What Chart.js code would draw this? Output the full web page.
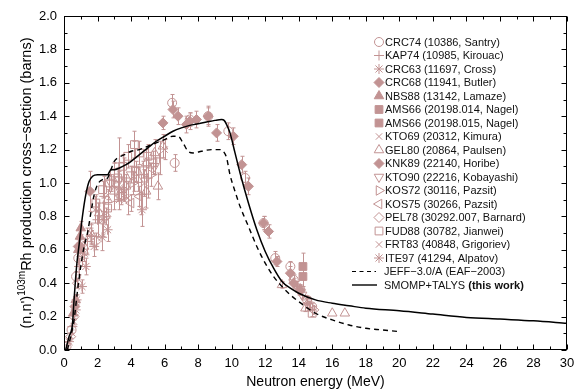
<!DOCTYPE html>
<html><head><meta charset="utf-8">
<script src="https://cdn.jsdelivr.net/npm/chart.js@4/dist/chart.umd.min.js"></script>
<style>html,body{margin:0;padding:0;background:#fff}#wrap{width:583px;height:390px;position:relative}</style>
</head><body><div id="wrap"><canvas id="c" width="583" height="390"></canvas></div>
<script>
// ---------- DATA (energy MeV, cross-section barns, error barns) ----------
const crc74_E = [0.15,0.45,0.72,0.85,6.45,6.6,7.5,8.6,9.8,10.8,11.9,12.6,13.5,13.7,14.1,14.5,14.8];
const crc74_V = [0.02,0.12,0.44,0.55,1.48,1.12,1.38,1.40,1.31,1.03,0.76,0.55,0.50,0.42,0.36,0.30,0.26];
const crc74_D = [0.01,0.02,0.03,0.04,0.05,0.05,0.04,0.05,0.05,0.04,0.04,0.04,0.03,0.03,0.03,0.02,0.02];

const kap74_E = [0.5,0.9,1.4,2.0,2.4,3.0,3.6,4.2,5.0,5.7,3.3,4.6,14.5];
const kap74_V = [0.14,0.50,0.65,0.78,0.92,0.98,1.03,1.10,1.03,1.15,1.12,0.93,0.28];
const kap74_D = [0.02,0.05,0.08,0.10,0.12,0.14,0.12,0.15,0.12,0.10,0.15,0.12,0.03];

const crc63_E = [0.3,0.75,1.07,1.3,1.8,2.6,3.3,14.5];
const crc63_V = [0.05,0.30,0.38,0.50,0.62,0.72,0.90,0.30];
const crc63_D = [0.01,0.03,0.04,0.05,0.06,0.07,0.06,0.02];

const crc68_E = [0.65,0.85,0.95,1.55,14.1];
const crc68_V = [0.26,0.62,0.62,0.95,0.36];
const crc68_D = [0.03,0.04,0.04,0.12,0.03];

const nbs88_E = [0.55,0.7,0.85,0.95,1.0];
const nbs88_V = [0.22,0.30,0.60,0.68,0.73];
const nbs88_D = [0.02,0.03,0.04,0.04,0.04];

const ams66a_E = [14.25];
const ams66a_V = [0.50];
const ams66a_D = [0.08];

const ams66b_E = [14.25];
const ams66b_V = [0.44];
const ams66b_D = [0.06];

const kto69_E = [1.85,3.8,4.8,6.0,14.6];
const kto69_V = [0.84,0.91,1.00,1.20,0.27];
const kto69_D = [0.08,0.10,0.08,0.06,0.02];

const gel80_E = [1.2,1.6,2.1,2.6,3.0,3.7,4.4,4.9,5.4,5.9,5.6,4.9,13.0,14.4,16.0,16.75];
const gel80_V = [0.62,0.70,0.82,0.90,0.95,0.98,1.02,1.12,1.18,1.22,0.98,0.95,0.39,0.25,0.22,0.22];
const gel80_D = [0.05,0.05,0.06,0.06,0.06,0.07,0.07,0.08,0.08,0.07,0.08,0.10,0.02,0.02,0,0];

const knk89_E = [5.9,6.5,6.8,7.3,7.5,7.9,8.6,9.1,10.1,10.6,11.0,11.9,12.2,12.7,13.5,13.7];
const knk89_V = [1.36,1.44,1.40,1.35,1.37,1.38,1.40,1.30,1.28,1.11,0.98,0.76,0.71,0.53,0.46,0.40];
const knk89_D = [0.04,0.05,0.05,0.05,0.05,0.05,0.06,0.05,0.05,0.05,0.05,0.04,0.04,0.03,0.04,0.03];

const kto90_E = [2.8,3.3,4.0,4.7,5.4,14.2];
const kto90_V = [1.00,1.02,1.05,1.08,1.10,0.33];
const kto90_D = [0.05,0.05,0.05,0.05,0.05,0.02];

const kos72_E = [3.2,4.1,5.2,14.7];
const kos72_V = [0.95,1.00,1.05,0.26];
const kos72_D = [0.06,0.07,0.07,0.02];

const kos75_E = [4.0,4.5];
const kos75_V = [0.88,0.92];
const kos75_D = [0.05,0.06];

const pel78_E = [0.4,0.6,0.8,1.9,2.5,3.5,14.9];
const pel78_V = [0.08,0.20,0.40,0.65,0.80,0.96,0.24];
const pel78_D = [0.01,0.02,0.03,0.05,0.05,0.06,0.02];

const fud88_E = [2.3,2.6,2.7,3.0,3.2,3.4,3.5,3.8,4.2,4.3,4.5,5.0,5.3,1.9,14.8];
const fud88_V = [0.96,0.85,1.00,1.06,1.03,0.92,1.10,1.16,1.23,1.07,1.18,1.16,1.12,0.88,0.22];
const fud88_D = [0.05,0.05,0.05,0.06,0.06,0.05,0.07,0.07,0.08,0.06,0.07,0.07,0.07,0.05,0.02];

const frt83_E = [0.6,1.1,1.6,2.4,3.6,14.0];
const frt83_V = [0.17,0.55,0.70,0.82,0.95,0.36];
const frt83_D = [0.02,0.05,0.06,0.06,0.06,0.03];

const ite97_E = [0.7,1.2,1.6,2.27,2.33,4.65,13.9];
const ite97_V = [0.24,0.58,0.68,0.675,0.78,0.84,0.38];
const ite97_D = [0.03,0.05,0.05,0.08,0.10,0.10,0.03];

const jeff_E = [0.2,0.4,0.6,0.8,1.0,1.2,1.4,1.6,1.8,2.0,2.3,2.6,2.8,3.0,3.2,3.6,4.0,4.5,5.0,5.5,6.0,6.5,6.8,7.1,7.4,7.7,8.2,8.8,9.3,9.5,9.7,9.9,10.2,10.5,11.0,11.5,12.0,12.5,13.0,13.5,14.0,15.0,16.0,17.0,18.0,19.0,20.0];
const jeff_V = [0,0.08,0.18,0.35,0.50,0.62,0.70,0.82,0.93,0.99,1.02,1.03,1.08,1.13,1.15,1.17,1.19,1.20,1.22,1.24,1.26,1.28,1.28,1.24,1.19,1.18,1.19,1.20,1.20,1.19,1.15,1.05,0.95,0.86,0.74,0.62,0.52,0.44,0.38,0.33,0.29,0.22,0.18,0.15,0.13,0.12,0.11];

const talys_E = [0.1,0.3,0.5,0.6,0.75,0.9,1.1,1.3,1.5,1.7,2.0,2.6,2.8,3.0,3.3,3.7,4.0,4.5,5.0,5.5,6.0,6.5,7.0,7.5,8.0,8.5,9.0,9.4,9.55,9.7,9.9,10.2,10.5,11.0,11.5,12.0,12.5,13.0,13.5,14.0,15.0,16.0,17.0,18.0,20.0,22.0,24.0,26.0,28.0,30.0];
const talys_V = [0,0.08,0.15,0.30,0.50,0.63,0.80,0.93,1.01,1.04,1.05,1.05,1.08,1.08,1.09,1.11,1.13,1.17,1.21,1.25,1.28,1.31,1.33,1.345,1.355,1.365,1.375,1.38,1.375,1.35,1.30,1.18,1.06,0.88,0.72,0.59,0.49,0.41,0.37,0.34,0.30,0.28,0.265,0.25,0.235,0.215,0.195,0.185,0.175,0.16];

const xTicks = [0,2,4,6,8,10,12,14,16,18,20,22,24,26,28,30];
const yTicks = [0.0,0.2,0.4,0.6,0.8,1.0,1.2,1.4,1.6,1.8,2.0];

// ---------- STYLE ----------
const MC = '#c29393';
const FONT = '"Liberation Sans", Arial, Helvetica, sans-serif';
const series = [
  {label:'CRC74 (10386, Santry)',      E:crc74_E, V:crc74_V, D:crc74_D, ps:'circle',   fill:false, rot:0,   r:4.5},
  {label:'KAP74 (10985, Kirouac)',     E:kap74_E, V:kap74_V, D:kap74_D, ps:'cross',    fill:false, rot:0,   r:5},
  {label:'CRC63 (11697, Cross)',       E:crc63_E, V:crc63_V, D:crc63_D, ps:'star',     fill:false, rot:0,   r:5},
  {label:'CRC68 (11941, Butler)',      E:crc68_E, V:crc68_V, D:crc68_D, ps:'rectRot',  fill:true,  rot:0,   r:5},
  {label:'NBS88 (13142, Lamaze)',      E:nbs88_E, V:nbs88_V, D:nbs88_D, ps:'triangle', fill:true,  rot:0,   r:5.5},
  {label:'AMS66 (20198.014, Nagel)',   E:ams66a_E,V:ams66a_V,D:ams66a_D,ps:'rect',     fill:true,  rot:0,   r:5.5},
  {label:'AMS66 (20198.015, Nagel)',   E:ams66b_E,V:ams66b_V,D:ams66b_D,ps:'rect',     fill:true,  rot:0,   r:5.5},
  {label:'KTO69 (20312, Kimura)',      E:kto69_E, V:kto69_V, D:kto69_D, ps:'crossRot', fill:false, rot:0,   r:4.5},
  {label:'GEL80 (20864, Paulsen)',     E:gel80_E, V:gel80_V, D:gel80_D, ps:'triangle', fill:false, rot:0,   r:5.5},
  {label:'KNK89 (22140, Horibe)',      E:knk89_E, V:knk89_V, D:knk89_D, ps:'rectRot',  fill:true,  rot:0,   r:5},
  {label:'KTO90 (22216, Kobayashi)',   E:kto90_E, V:kto90_V, D:kto90_D, ps:'triangle', fill:false, rot:180, r:5.5},
  {label:'KOS72 (30116, Pazsit)',      E:kos72_E, V:kos72_V, D:kos72_D, ps:'triangle', fill:false, rot:90,  r:5.5},
  {label:'KOS75 (30266, Pazsit)',      E:kos75_E, V:kos75_V, D:kos75_D, ps:'triangle', fill:false, rot:270, r:5.5},
  {label:'PEL78 (30292.007, Barnard)', E:pel78_E, V:pel78_V, D:pel78_D, ps:'rectRot',  fill:false, rot:0,   r:5},
  {label:'FUD88 (30782, Jianwei)',     E:fud88_E, V:fud88_V, D:fud88_D, ps:'rect',     fill:false, rot:0,   r:5.5},
  {label:'FRT83 (40848, Grigoriev)',   E:frt83_E, V:frt83_V, D:frt83_D, ps:'crossRot', fill:false, rot:0,   r:4.5},
  {label:'ITE97 (41294, Alpatov)',     E:ite97_E, V:ite97_V, D:ite97_D, ps:'star',     fill:false, rot:0,   r:5}
];

const datasets = series.map(s => ({
  type:'scatter', label:s.label,
  data:s.E.map((e,i)=>({x:e,y:s.V[i]})),
  errs:s.D,
  pointStyle:s.ps, pointRotation:s.rot, pointRadius:s.r,
  pointBackgroundColor: s.fill ? MC : 'rgba(0,0,0,0)',
  pointBorderColor: MC, pointBorderWidth:1, showLine:false, order:2
}));
datasets.push({type:'line', label:'JEFF−3.0/A (EAF−2003)', data:jeff_E.map((e,i)=>({x:e,y:jeff_V[i]})),
  borderColor:'#000', borderWidth:1.4, borderDash:[5,4], pointRadius:0, cubicInterpolationMode:'monotone', fill:false, order:0});
datasets.push({type:'line', label:'SMOMP+TALYS (this work)', data:talys_E.map((e,i)=>({x:e,y:talys_V[i]})),
  borderColor:'#000', borderWidth:1.5, pointRadius:0, cubicInterpolationMode:'monotone', fill:false, order:0});

const errorBars = {
  id:'errorBars',
  beforeDatasetsDraw(chart){
    const {ctx, scales:{x,y}} = chart;
    ctx.save(); ctx.strokeStyle = MC; ctx.lineWidth = 1;
    chart.data.datasets.forEach(ds=>{
      if(!ds.errs) return;
      ds.data.forEach((p,j)=>{
        const e = ds.errs[j]; if(!e) return;
        const px = Math.round(x.getPixelForValue(p.x))+0.5;
        const y1 = y.getPixelForValue(p.y-e), y2 = y.getPixelForValue(p.y+e);
        ctx.beginPath();
        ctx.moveTo(px,y1); ctx.lineTo(px,y2);
        ctx.moveTo(px-2,y1); ctx.lineTo(px+2,y1);
        ctx.moveTo(px-2,y2); ctx.lineTo(px+2,y2);
        ctx.stroke();
      });
    });
    ctx.restore();
  }
};

const decor = {
  id:'decor',
  afterDraw(chart){
    const {ctx, chartArea:a, scales:{x,y}} = chart;
    ctx.save();
    ctx.strokeStyle='#000'; ctx.lineWidth=1;
    const L=Math.round(a.left)+0.5, R=Math.round(a.right)-0.5, T=Math.round(a.top)+0.5, B=Math.round(a.bottom)-0.5;
    ctx.strokeRect(L,T,R-L,B-T);
    ctx.beginPath();
    for(let i=0;i<=30;i++){
      const px=Math.round(x.getPixelForValue(i))+0.5; const len = i%2===0?5:3;
      ctx.moveTo(px,B); ctx.lineTo(px,B-len);
      ctx.moveTo(px,T); ctx.lineTo(px,T+len);
    }
    for(let i=0;i<=20;i++){
      const py=Math.round(y.getPixelForValue(i/10))+0.5; const len = i%2===0?5:3;
      ctx.moveTo(L,py); ctx.lineTo(L+len,py);
      ctx.moveTo(R,py); ctx.lineTo(R-len,py);
    }
    ctx.stroke();

    // axis titles
    ctx.fillStyle='#000';
    ctx.font='14px '+FONT; ctx.textAlign='center'; ctx.textBaseline='alphabetic';
    ctx.fillText('Neutron energy (MeV)', (a.left+a.right)/2, 386);

    ctx.save();
    ctx.translate(31, (a.top+a.bottom)/2); ctx.rotate(-Math.PI/2);
    const p1="(n,n')", sup='103m', p2='Rh production cross−section (barns)';
    ctx.font='14.5px '+FONT; const w1=ctx.measureText(p1).width, w2=ctx.measureText(p2).width;
    ctx.font='10px '+FONT; const ws=ctx.measureText(sup).width;
    let sx = -(w1+ws+w2)/2;
    ctx.textAlign='left';
    ctx.font='14.5px '+FONT; ctx.fillText(p1,sx,0); sx+=w1;
    ctx.font='10px '+FONT; ctx.fillText(sup,sx,-6); sx+=ws;
    ctx.font='14.5px '+FONT; ctx.fillText(p2,sx,0);
    ctx.restore();

    // legend
    ctx.textAlign='left'; ctx.textBaseline='middle';
    series.forEach((s,i)=>{
      const ly = 42 + i*13.5;
      ctx.fillStyle = s.fill ? MC : 'rgba(0,0,0,0)'; ctx.strokeStyle = MC; ctx.lineWidth=1;
      Chart.helpers.drawPoint(ctx,{pointStyle:s.ps, rotation:s.rot, radius:s.r, borderWidth:1}, 379, ly);
      ctx.fillStyle='#111'; ctx.font='11px '+FONT;
      ctx.fillText(s.label, 385, ly+0.5);
    });
    let ly = 42 + 17*13.5;
    ctx.strokeStyle='#000'; ctx.lineWidth=1.2;
    ctx.setLineDash([4,3.5]); ctx.beginPath(); ctx.moveTo(352,ly); ctx.lineTo(376,ly); ctx.stroke();
    ctx.setLineDash([]);
    ctx.fillStyle='#111'; ctx.font='11px '+FONT; ctx.fillText('JEFF−3.0/A (EAF−2003)', 384, ly+0.5);
    ly += 13.5;
    ctx.lineWidth=1.4; ctx.beginPath(); ctx.moveTo(352,ly); ctx.lineTo(377,ly); ctx.stroke();
    const t1='SMOMP+TALYS ';
    ctx.font='11px '+FONT; ctx.fillText(t1,384,ly+0.5);
    const wt=ctx.measureText(t1).width;
    ctx.font='bold 11px '+FONT; ctx.fillText('(this work)',384+wt,ly+0.5);
    ctx.restore();
  }
};

new Chart(document.getElementById('c'), {
  data:{datasets},
  options:{
    responsive:false, animation:false, devicePixelRatio:1,
    layout:{padding:{left:0,right:16,top:16,bottom:0}},
    plugins:{legend:{display:false}, tooltip:{enabled:false}},
    scales:{
      x:{type:'linear', min:0, max:30,
        grid:{display:false, drawTicks:false}, border:{display:false},
        afterFit:s=>{s.height=40;},
        afterBuildTicks:s=>{s.ticks=xTicks.map(v=>({value:v}));},
        ticks:{autoSkip:false, maxRotation:0, padding:6, color:'#000', font:{family:FONT,size:13}, callback:v=>String(v)}},
      y:{type:'linear', min:0, max:2,
        grid:{display:false, drawTicks:false}, border:{display:false},
        afterFit:s=>{s.width=64;},
        afterBuildTicks:s=>{s.ticks=yTicks.map(v=>({value:v}));},
        ticks:{padding:7, color:'#000', font:{family:FONT,size:13}, callback:v=>Number(v).toFixed(1)}}
    }
  },
  plugins:[errorBars, decor]
});
</script></body></html>
